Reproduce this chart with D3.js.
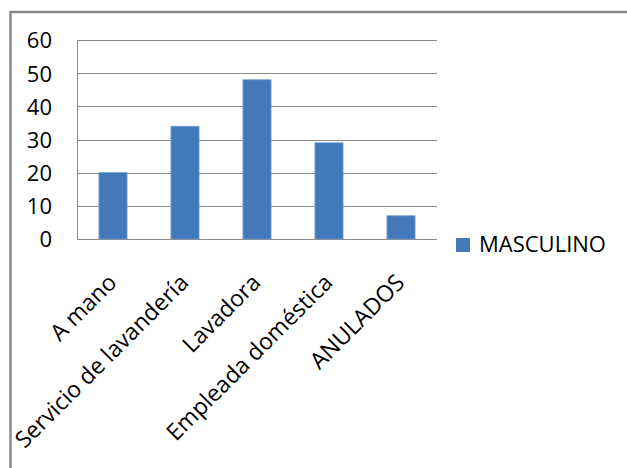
<!DOCTYPE html>
<html>
<head>
<meta charset="utf-8">
<script src="https://cdn.jsdelivr.net/npm/d3@7"></script>
<style>
  html, body { margin: 0; padding: 0; background: #fff; }
  svg { display: block; }
  text { font-family: "Open Sans", sans-serif; fill: #000; }
</style>
</head>
<body>
<svg id="chart" width="627" height="468"></svg>
<script>
// Forma de lavado de ropa — serie MASCULINO
const categories = ["A mano", "Servicio de lavandería", "Lavadora", "Empleada doméstica", "ANULADOS"];
const masculino = [20, 34, 48, 29, 7];
const yTicks = [0, 10, 20, 30, 40, 50, 60];
const seriesName = "MASCULINO";

const svg = d3.select("#chart");
const W = 627, H = 468;
const plot = { left: 77, right: 437, top: 40, bottom: 239 };

// Outer chart frame (only top and left edges fall inside the view)
svg.append("path")
  .attr("d", `M10.5,${H} L10.5,12 L${W},12`)
  .attr("fill", "none")
  .attr("stroke", "#8a8a8a")
  .attr("stroke-width", 2.5);

const x = d3.scaleBand()
  .domain(categories)
  .range([plot.left, plot.right])
  .paddingInner(0.61)
  .paddingOuter(0.305);

const y = d3.scaleLinear()
  .domain([0, 60])
  .range([plot.bottom, plot.top]);

// Horizontal gridlines
svg.append("g")
  .selectAll("line")
  .data(yTicks)
  .join("line")
  .attr("x1", plot.left)
  .attr("x2", plot.right)
  .attr("y1", d => Math.round(y(d)) + 0.5)
  .attr("y2", d => Math.round(y(d)) + 0.5)
  .attr("stroke", "#8c8c8c")
  .attr("stroke-width", 1);

// Vertical value axis line
svg.append("line")
  .attr("x1", plot.left + 0.5).attr("x2", plot.left + 0.5)
  .attr("y1", plot.top).attr("y2", plot.bottom + 1)
  .attr("stroke", "#8c8c8c");

// Y tick labels
const yAxis = d3.axisLeft(y).tickValues(yTicks).tickSize(0).tickPadding(0);
const gy = svg.append("g")
  .attr("transform", `translate(52,0)`)
  .call(yAxis);
gy.select(".domain").remove();
gy.selectAll("text")
  .attr("font-size", 22)
  .attr("font-family", "Open Sans, sans-serif")
  .attr("fill", "#000")
  .attr("dy", "0.36em");

// Bars
svg.append("g")
  .selectAll("rect")
  .data(masculino)
  .join("rect")
  .attr("x", (d, i) => x(categories[i]))
  .attr("width", x.bandwidth())
  .attr("y", d => y(d))
  .attr("height", d => y(0) - y(d))
  .attr("fill", "#4279bb")
  .attr("stroke", "#6f9bd0")
  .attr("stroke-width", 0.8);

// Category labels, rotated 45°
const xAxis = d3.axisBottom(x).tickSize(0).tickPadding(0);
const gx = svg.append("g")
  .attr("transform", `translate(0,${plot.bottom})`)
  .call(xAxis);
gx.select(".domain").remove();
gx.selectAll("text")
  .attr("font-size", 23)
  .attr("font-family", "Open Sans, sans-serif")
  .attr("fill", "#000")
  .attr("text-anchor", "end")
  .attr("dy", null)
  .attr("y", null)
  .attr("transform", "translate(5,45) rotate(-45)");

// Legend
const legend = svg.append("g").attr("transform", "translate(456,238)");
legend.append("rect")
  .attr("width", 14).attr("height", 14)
  .attr("fill", "#4279bb");
legend.append("text")
  .attr("x", 23)
  .attr("y", 14)
  .attr("font-size", 22)
  .text(seriesName);
</script>
</body>
</html>
